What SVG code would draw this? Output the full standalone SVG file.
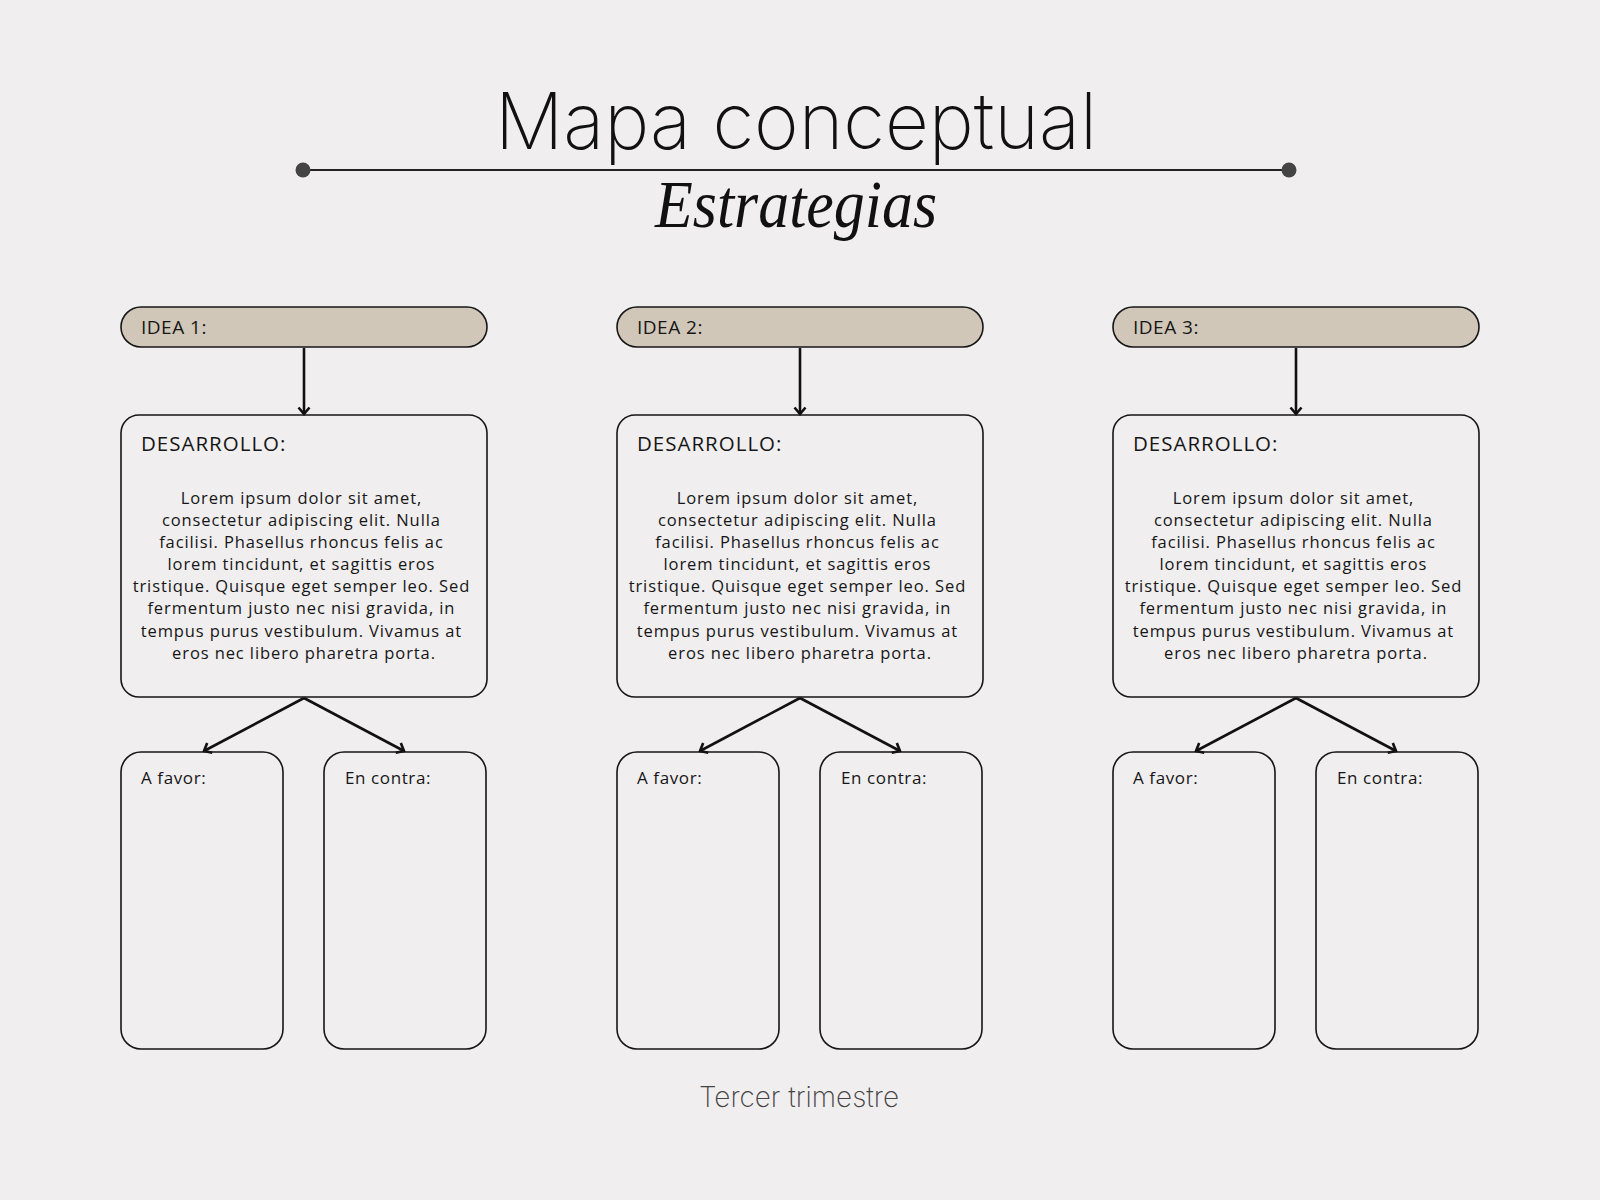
<svg xmlns="http://www.w3.org/2000/svg" width="1600" height="1200" viewBox="0 0 1600 1200">
<defs>
<style>
.bg{fill:#f0eeef}
.idea{fill:#d1c7b8;stroke:#161616;stroke-width:1.6}
.box{fill:none;stroke:#161616;stroke-width:1.6}
.lbl{font-family:"Open Sans","Liberation Sans",sans-serif;fill:#161616}
.h{font-size:19px;letter-spacing:0.5px}
.d{font-size:20.5px;letter-spacing:1px}
.body{font-size:16.5px;text-anchor:middle;letter-spacing:0.9px}
.small{font-size:17px;letter-spacing:0.6px}
.conn{stroke:#111;stroke-width:2.6;fill:none;marker-end:url(#ah)}
</style>
<marker id="ah" viewBox="-10 -7 12 14" refX="0" refY="0" markerWidth="12" markerHeight="14" markerUnits="userSpaceOnUse" orient="auto">
<path d="M-6.5,-5.5 L0,0 L-6.5,5.5" fill="none" stroke="#111" stroke-width="2.6" stroke-linejoin="miter"/>
</marker>
</defs>
<rect class="bg" x="0" y="0" width="1600" height="1200"/>

<g id="title">
<text x="796" y="149" text-anchor="middle" font-family="Inter,'Liberation Sans',sans-serif" font-weight="200" font-size="78" fill="#111" textLength="602" lengthAdjust="spacingAndGlyphs">Mapa conceptual</text>
<line x1="303" y1="170" x2="1289" y2="170" stroke="#222" stroke-width="2"/>
<circle cx="303" cy="170" r="7.5" fill="#444"/>
<circle cx="1289" cy="170" r="7.5" fill="#444"/>
<text x="796" y="227" text-anchor="middle" font-family="'Liberation Serif',serif" font-style="italic" font-size="68" fill="#111" textLength="282" lengthAdjust="spacingAndGlyphs">Estrategias</text>
</g>

<g id="connectors">
<line class="conn" x1="304" y1="348" x2="304" y2="414"/>
<line class="conn" x1="304" y1="698" x2="204" y2="751"/>
<line class="conn" x1="304" y1="698" x2="404" y2="751"/>
<line class="conn" x1="800" y1="348" x2="800" y2="414"/>
<line class="conn" x1="800" y1="698" x2="700" y2="751"/>
<line class="conn" x1="800" y1="698" x2="900" y2="751"/>
<line class="conn" x1="1296" y1="348" x2="1296" y2="414"/>
<line class="conn" x1="1296" y1="698" x2="1196" y2="751"/>
<line class="conn" x1="1296" y1="698" x2="1396" y2="751"/>
</g>

<g id="idea1">
<rect class="idea" x="121" y="307" width="366" height="40" rx="20"/>
<text class="lbl h" x="141" y="334">IDEA 1:</text>
</g>
<g id="desarrollo1">
<rect class="box" x="121" y="415" width="366" height="282" rx="18"/>
<text class="lbl d" x="141" y="451">DESARROLLO:</text>
<text class="lbl body">
<tspan x="304" y="504">Lorem ipsum dolor sit amet,</tspan>
<tspan x="304" y="526">consectetur adipiscing elit. Nulla</tspan>
<tspan x="304" y="548">facilisi. Phasellus rhoncus felis ac</tspan>
<tspan x="304" y="570">lorem tincidunt, et sagittis eros</tspan>
<tspan x="304" y="592">tristique. Quisque eget semper leo. Sed</tspan>
<tspan x="304" y="614">fermentum justo nec nisi gravida, in</tspan>
<tspan x="304" y="637">tempus purus vestibulum. Vivamus at</tspan>
<tspan x="304" y="659">eros nec libero pharetra porta.</tspan>
</text>
</g>
<g id="favor1">
<rect class="box" x="121" y="752" width="162" height="297" rx="20"/>
<text class="lbl small" x="141" y="784">A favor:</text>
</g>
<g id="contra1">
<rect class="box" x="324" y="752" width="162" height="297" rx="20"/>
<text class="lbl small" x="345" y="784">En contra:</text>
</g>

<g id="idea2">
<rect class="idea" x="617" y="307" width="366" height="40" rx="20"/>
<text class="lbl h" x="637" y="334">IDEA 2:</text>
</g>
<g id="desarrollo2">
<rect class="box" x="617" y="415" width="366" height="282" rx="18"/>
<text class="lbl d" x="637" y="451">DESARROLLO:</text>
<text class="lbl body">
<tspan x="800" y="504">Lorem ipsum dolor sit amet,</tspan>
<tspan x="800" y="526">consectetur adipiscing elit. Nulla</tspan>
<tspan x="800" y="548">facilisi. Phasellus rhoncus felis ac</tspan>
<tspan x="800" y="570">lorem tincidunt, et sagittis eros</tspan>
<tspan x="800" y="592">tristique. Quisque eget semper leo. Sed</tspan>
<tspan x="800" y="614">fermentum justo nec nisi gravida, in</tspan>
<tspan x="800" y="637">tempus purus vestibulum. Vivamus at</tspan>
<tspan x="800" y="659">eros nec libero pharetra porta.</tspan>
</text>
</g>
<g id="favor2">
<rect class="box" x="617" y="752" width="162" height="297" rx="20"/>
<text class="lbl small" x="637" y="784">A favor:</text>
</g>
<g id="contra2">
<rect class="box" x="820" y="752" width="162" height="297" rx="20"/>
<text class="lbl small" x="841" y="784">En contra:</text>
</g>

<g id="idea3">
<rect class="idea" x="1113" y="307" width="366" height="40" rx="20"/>
<text class="lbl h" x="1133" y="334">IDEA 3:</text>
</g>
<g id="desarrollo3">
<rect class="box" x="1113" y="415" width="366" height="282" rx="18"/>
<text class="lbl d" x="1133" y="451">DESARROLLO:</text>
<text class="lbl body">
<tspan x="1296" y="504">Lorem ipsum dolor sit amet,</tspan>
<tspan x="1296" y="526">consectetur adipiscing elit. Nulla</tspan>
<tspan x="1296" y="548">facilisi. Phasellus rhoncus felis ac</tspan>
<tspan x="1296" y="570">lorem tincidunt, et sagittis eros</tspan>
<tspan x="1296" y="592">tristique. Quisque eget semper leo. Sed</tspan>
<tspan x="1296" y="614">fermentum justo nec nisi gravida, in</tspan>
<tspan x="1296" y="637">tempus purus vestibulum. Vivamus at</tspan>
<tspan x="1296" y="659">eros nec libero pharetra porta.</tspan>
</text>
</g>
<g id="favor3">
<rect class="box" x="1113" y="752" width="162" height="297" rx="20"/>
<text class="lbl small" x="1133" y="784">A favor:</text>
</g>
<g id="contra3">
<rect class="box" x="1316" y="752" width="162" height="297" rx="20"/>
<text class="lbl small" x="1337" y="784">En contra:</text>
</g>

<g id="footer">
<text x="799" y="1107" text-anchor="middle" font-family="Inter,'Liberation Sans',sans-serif" font-weight="200" font-size="28" fill="#444" textLength="200" lengthAdjust="spacingAndGlyphs">Tercer trimestre</text>
</g>
</svg>
